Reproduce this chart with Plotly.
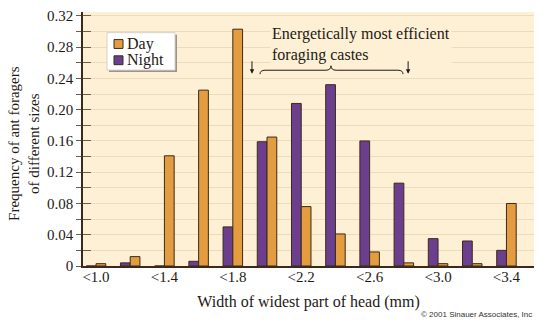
import plotly.graph_objects as go

# Head-width classes (upper bound, mm) and forager frequencies
head_width = [1.0, 1.2, 1.4, 1.6, 1.8, 2.0, 2.2, 2.4, 2.6, 2.8, 3.0, 3.2, 3.4]
night_freq = [0.0, 0.004, 0.0, 0.006, 0.050, 0.159, 0.208, 0.232, 0.160, 0.106, 0.035, 0.032, 0.020]
day_freq = [0.003, 0.012, 0.141, 0.225, 0.303, 0.165, 0.076, 0.041, 0.018, 0.004, 0.003, 0.003, 0.080]

tick_vals = [1.0, 1.4, 1.8, 2.2, 2.6, 3.0, 3.4]
tick_text = ["&lt;1.0", "&lt;1.4", "&lt;1.8", "&lt;2.2", "&lt;2.6", "&lt;3.0", "&lt;3.4"]
y_ticks = [0, 0.04, 0.08, 0.12, 0.16, 0.20, 0.24, 0.28, 0.32]
y_text = ["0", "0.04", "0.08", "0.12", "0.16", "0.20", "0.24", "0.28", "0.32"]

DAY = "#e39c3f"
NIGHT = "#6b3f8d"
EDGE = "#3b2a1c"
PLOT_BG = "#fdf0d4"
GRID = "#eadcbd"
TICK = "#6e5f4c"
INK = "#1e1a16"
SERIF = "Liberation Serif"

W, H = 543, 325
M_L, M_R, M_T, M_B = 83, 9, 8, 59
Y_MAX = 0.325


def px_x(p):
    """Horizontal pixel -> paper fraction of the plot area."""
    return (p - M_L) / (W - M_L - M_R)


def px_y(p):
    """Vertical pixel -> paper fraction of the plot area."""
    return (H - M_B - p) / (H - M_T - M_B)


fig = go.Figure()
fig.add_trace(go.Bar(x=head_width, y=night_freq, name="Night",
                     marker=dict(color=NIGHT, line=dict(color=EDGE, width=1))))
fig.add_trace(go.Bar(x=head_width, y=day_freq, name="Day",
                     marker=dict(color=DAY, line=dict(color=EDGE, width=1))))

fig.update_layout(
    width=W, height=H,
    margin=dict(l=M_L, r=M_R, t=M_T, b=M_B),
    paper_bgcolor="white",
    plot_bgcolor=PLOT_BG,
    barmode="group",
    bargap=0.43,
    bargroupgap=0,
    font=dict(family=SERIF, size=15, color=INK),
    showlegend=False,
)

fig.update_xaxes(
    range=[0.924, 3.561],
    tickvals=tick_vals, ticktext=tick_text,
    ticks="", showgrid=False,
    showline=True, linecolor=EDGE, linewidth=1.5,
    tickfont=dict(family=SERIF, size=15, color=INK),
    ticklabelstandoff=-4,
    zeroline=False,
    title=dict(text="Width of widest part of head (mm)",
               font=dict(family=SERIF, size=16, color=INK), standoff=12),
)
fig.update_yaxes(
    range=[0, Y_MAX],
    tickvals=y_ticks, ticktext=y_text,
    ticks="outside", ticklen=5, tickcolor=TICK, tickwidth=1,
    showgrid=True, gridcolor=GRID, gridwidth=1,
    minor=dict(dtick=0.02, ticks="outside", ticklen=5, tickcolor=TICK,
               showgrid=True, gridcolor=GRID),
    showline=True, linecolor=EDGE, linewidth=1.5,
    tickfont=dict(family=SERIF, size=15, color=INK),
    zeroline=False,
)

# Overlay axis carrying the inner half of the tick marks
fig.update_layout(yaxis2=dict(
    overlaying="y", side="left", range=[0, Y_MAX],
    tickvals=y_ticks, showticklabels=False,
    ticks="inside", ticklen=8, tickcolor=TICK, tickwidth=1,
    minor=dict(dtick=0.02, ticks="inside", ticklen=8, tickcolor=TICK),
    showgrid=False, zeroline=False, showline=False,
))
fig.add_trace(go.Scatter(x=[], y=[], yaxis="y2", showlegend=False))

# Y axis title as two centred lines
fig.add_annotation(
    text="Frequency of ant foragers<br>of different sizes",
    xref="paper", yref="paper", x=px_x(24), y=px_y(142),
    xanchor="center", yanchor="middle",
    textangle=-90, showarrow=False,
    font=dict(family=SERIF, size=15, color=INK),
)

# Callout text
fig.add_annotation(
    text="Energetically most efficient<br>foraging castes",
    xref="paper", yref="paper", x=px_x(270), y=px_y(41),
    xanchor="left", yanchor="middle", align="left",
    showarrow=False, bgcolor=PLOT_BG,
    font=dict(family=SERIF, size=16, color=INK),
)

# Curly brace under the callout
xl, xr, xm = 1.959, 2.795, 2.374
yb = 0.2505
brace = (
    f"M {xl},{yb-0.005} Q {xl},{yb} {xl+0.03},{yb} "
    f"L {xm-0.03},{yb} Q {xm},{yb} {xm},{yb+0.006} "
    f"Q {xm},{yb} {xm+0.03},{yb} "
    f"L {xr-0.03},{yb} Q {xr},{yb} {xr},{yb-0.005}"
)
fig.add_shape(type="path", path=brace, xref="x", yref="y", line=dict(color=INK, width=1))

# Down arrows marking the span
for xa in (1.912, 2.825):
    fig.add_annotation(
        x=xa, y=0.246, xref="x", yref="y", ax=0, ay=-14,
        text="", showarrow=True, arrowhead=2, arrowsize=0.9, arrowwidth=1, arrowcolor=INK,
    )

# Legend box with drop shadow
fig.add_shape(type="rect", xref="paper", yref="paper",
              x0=px_x(109), x1=px_x(177), y0=px_y(69), y1=px_y(31),
              fillcolor="#9a948c", line=dict(width=0), layer="above")
fig.add_shape(type="rect", xref="paper", yref="paper",
              x0=px_x(107), x1=px_x(175), y0=px_y(67), y1=px_y(29),
              fillcolor="white", line=dict(color="#d8d2c8", width=1), layer="above")
legend_items = [("Day", DAY, 40.5), ("Night", NIGHT, 57)]
for label, colour, yc in legend_items:
    fig.add_shape(type="rect", xref="paper", yref="paper",
                  x0=px_x(114), x1=px_x(123), y0=px_y(yc + 4.5), y1=px_y(yc - 4.5),
                  fillcolor=colour, line=dict(color=EDGE, width=1), layer="above")
    fig.add_annotation(text=label, xref="paper", yref="paper",
                       x=px_x(125), y=px_y(yc), xanchor="left", yanchor="middle",
                       showarrow=False, font=dict(family=SERIF, size=16, color=INK))

# Copyright line
fig.add_annotation(
    text="© 2001 Sinauer Associates, Inc",
    xref="paper", yref="paper", x=1.0, y=px_y(315), xanchor="right", yanchor="middle",
    showarrow=False, font=dict(family="Liberation Sans", size=8, color="#333333"),
)

fig.write_html("out.html")
